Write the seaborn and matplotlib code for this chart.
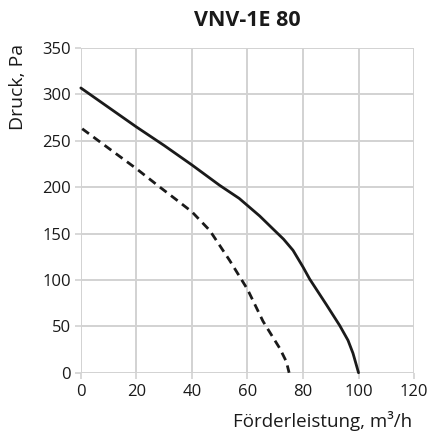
import matplotlib
matplotlib.use("Agg")
import matplotlib.pyplot as plt
import seaborn as sns
import pandas as pd

# Data
solid_x = [0, 10, 20, 30, 40, 50, 57, 64.4, 69.2, 73, 76.4, 80, 82.4, 88.4, 93.2, 96.2, 98, 100]
solid_y = [307, 286, 265, 245, 224, 202, 188, 169, 155, 144, 132, 114, 101, 73.5, 51, 35, 21, 0]
dashed_x = [0.5, 10, 20, 28.5, 34.4, 40, 46.4, 53.6, 60, 65.6, 69, 71.6, 74, 75]
dashed_y = [263, 242, 220, 200, 186.5, 173.5, 153.5, 121, 90, 55.5, 39, 26.5, 12, 0]

title = "VNV-1E 80"
xlabel = "Förderleistung, m³/h"
ylabel = "Druck, Pa"
xticks = [0, 20, 40, 60, 80, 100, 120]
yticks = [0, 50, 100, 150, 200, 250, 300, 350]

df = pd.concat([
    pd.DataFrame({"x": solid_x, "y": solid_y, "curve": "solid"}),
    pd.DataFrame({"x": dashed_x, "y": dashed_y, "curve": "dashed"}),
], ignore_index=True)

sns.set_theme(style="white")
plt.rcParams["font.family"] = ["Open Sans", "DejaVu Sans"]

fig = plt.figure(figsize=(4.30, 4.37), dpi=100)
ax = fig.add_axes([0.188, 0.147, 0.775, 0.743])

grid_c = "#d2d2d2"
ax.set_xlim(0, 120)
ax.set_ylim(0, 350)
ax.set_xticks(xticks)
ax.set_yticks(yticks)
ax.grid(True, color=grid_c, linewidth=1.4)
ax.set_axisbelow(True)
for s in ax.spines.values():
    s.set_visible(False)

sns.lineplot(data=df, x="x", y="y", hue="curve", style="curve",
             palette={"solid": "#1a1a1a", "dashed": "#1a1a1a"},
             dashes={"solid": "", "dashed": (3, 2)},
             sort=False, estimator=None, linewidth=2.0, legend=False, ax=ax)
for ln in ax.lines:
    ln.set_clip_on(False)
    ln.set_solid_joinstyle("round")
    ln.set_dash_joinstyle("round")

ax.tick_params(axis="both", which="both", length=4, width=1.2, color=grid_c,
               labelsize=12, labelcolor="#1a1a1a", left=True, bottom=True)
ax.tick_params(axis="x", pad=4)
ax.tick_params(axis="y", pad=3)
ax.set_xlabel("")
ax.set_ylabel("")
fig.text(0.958, 0.037, xlabel, ha="right", va="center", fontsize=13.5, color="#1a1a1a")
fig.text(0.042, 0.80, ylabel, ha="center", va="center", rotation=90, fontsize=14, color="#1a1a1a")
fig.text(0.576, 0.952, title, ha="center", va="center", fontsize=15.5,
         fontweight="bold", color="#1a1a1a")

fig.savefig("out.png", dpi=100)
